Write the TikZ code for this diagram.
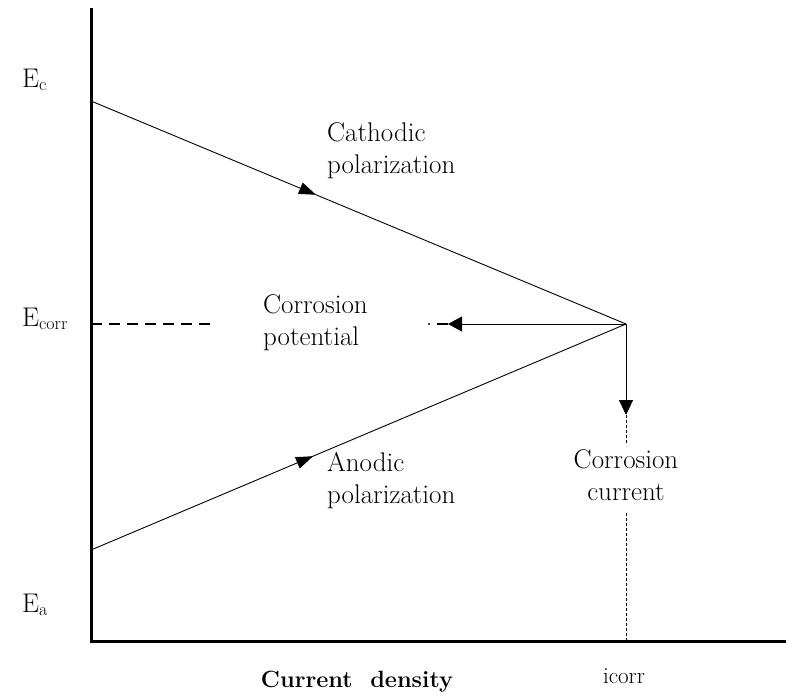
\documentclass[tikz,border=0pt]{standalone}
\usetikzlibrary{arrows.meta,decorations.markings}
\newcommand{\elabel}[1]{E\raisebox{-3pt}{\fontsize{18}{20}\selectfont #1}}
\begin{document}
\begin{tikzpicture}[x=1pt,y=-1pt,
  axis/.style={line width=3pt},
  curve/.style={line width=0.9pt},
  lbl/.style={font=\fontsize{27}{32}\selectfont, inner sep=0pt, align=left},
  elbl/.style={font=\fontsize{27}{30}\selectfont, inner sep=0pt, anchor=base west},
  midhead/.style={postaction={decorate}, decoration={markings,
      mark=at position #1 with {\arrow{Triangle[length=17pt,width=12pt]}}}},
  thinDash/.style={line width=0.7pt, dash pattern=on 3pt off 2pt}]
\useasboundingbox (0,0) rectangle (786,695);
% axes
\coordinate (top) at (91,8);
\coordinate (origin) at (91,641);
\coordinate (xend) at (786,641);
\draw[axis] (top) -- (origin) -- (xend);
% polarization lines
\coordinate (Ec) at (91,101);
\coordinate (Ea) at (91,550);
\coordinate (X) at (626,324);
\draw[curve, midhead=0.4206] (Ec) -- (X);
\draw[curve, midhead=0.415] (Ea) -- (X);
% corrosion potential
\coordinate (hA) at (448,324);
\coordinate (hD) at (437,324);
\coordinate (hDot) at (429,324);
\draw[curve, -{Triangle[length=14pt,width=15pt]}] (X) -- (hA);
\draw[line width=1.6pt] (hD) -- (hA);
\fill (hDot) circle (1.1pt);
\coordinate (dS) at (91,324);
\coordinate (dE) at (217,324);
\draw[line width=2.5pt, dash pattern=on 11pt off 7pt] (dS) -- (dE);
% corrosion current
\coordinate (vA) at (626,415);
\coordinate (vB) at (626,445);
\coordinate (vC) at (626,513);
\draw[curve, -{Triangle[length=15pt,width=14pt]}] (X) -- (vA);
\draw[thinDash] (vA) -- (vB);
\draw[thinDash] (vC) -- (origin -| vC);
% labels
\node[lbl, anchor=north west] (cath) at (327,122) {Cathodic\\polarization};
\node[lbl, anchor=north west] (cpot) at (263,294) {Corrosion\\potential};
\node[lbl, anchor=north west] (anod) at (327,452) {Anodic\\polarization};
\node[lbl, anchor=north, align=center] (ccur) at (626,449) {Corrosion\\current};
\node[elbl] (lEc) at (22,88) {\elabel{c}};
\node[elbl] (lEcorr) at (22,326) {\elabel{corr}};
\node[elbl] (lEa) at (22,612) {\elabel{a}};
\node[font=\fontsize{23.5}{26}\selectfont\bfseries, inner sep=0pt, anchor=base] (xl) at (357,687) {Current\ \ density};
\node[font=\fontsize{23}{26}\selectfont, inner sep=0pt, anchor=base] (ic) at (624,683) {icorr};
\end{tikzpicture}
\end{document}
